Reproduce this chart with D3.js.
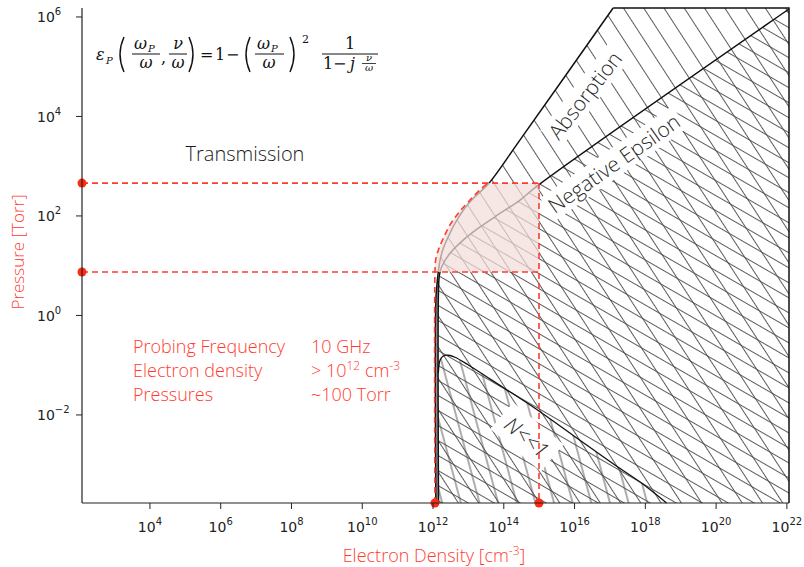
<!DOCTYPE html>
<html>
<head>
<meta charset="utf-8">
<script src="https://cdn.jsdelivr.net/npm/d3@7"></script>
<style>
body { margin: 0; background: #fff; }
svg { display: block; }
</style>
</head>
<body>
<svg id="chart" width="804" height="567"></svg>
<script>
// all values are log10 (electron density in cm^-3, pressure in Torr)
const xDomain = [2.08, 22.06];
const yDomain = [-3.77, 6.18];
const xTicks = [4, 6, 8, 10, 12, 14, 16, 18, 20, 22];
const yTicks = [-2, 0, 2, 4, 6];

// edge of the absorption zone (upper left line)
const absorptionEdge = [[12.08, -3.77], [12.08, 0.31], [12.11, 0.61], [12.15, 0.88], [12.20, 1.115],
    [12.29, 1.35], [12.43, 1.58], [12.62, 1.85], [12.86, 2.12], [13.14, 2.355], [13.56, 2.64],
    [14.46, 3.53], [17.09, 6.18]];
// edge of the negative epsilon zone
const negEpsilonEdge = [[12.155, -3.77], [12.155, 0.51], [12.18, 0.81], [12.245, 0.98], [12.48, 1.25],
    [12.86, 1.52], [13.33, 1.78], [13.89, 2.05], [14.46, 2.32], [14.975, 2.62], [22.06, 6.16]];
// N<<1 zone
const weakEdge = [[12.15, -3.77], [12.15, -1.163], [12.20, -0.895], [12.29, -0.815], [12.43, -0.80],
    [12.62, -0.84], [13.0, -0.996], [13.66, -1.30], [14.88, -1.866], [16.01, -2.437], [17.14, -3.006],
    [17.90, -3.374], [18.60, -3.77]];
// operating window
const pinkEdge = [[12.055, 0.874], [12.075, 1.115], [12.15, 1.316], [12.29, 1.55], [12.48, 1.82],
    [12.71, 2.05], [13.045, 2.32], [13.375, 2.556], [13.56, 2.66]];
const pressureMarks = [0.874, 2.66];
const densityMarks = [12.055, 14.995];

const zoneLabels = [
    { text: 'Absorption', at: [16.29, 4.43], angle: -52 },
    { text: 'Negative Epsilon', at: [17.11, 3.06], angle: -35 }
];

const infoRows = [
    ['Probing Frequency', '10 GHz'],
    ['Electron density', '> 10', '12', ' cm', '-3'],
    ['Pressures', '~100 Torr']
];

const RED = '#ff3b30';
const svg = d3.select('#chart');
const defs = svg.append('defs');

const x = d3.scaleLog().domain(xDomain.map(v => 10 ** v)).range([82, 789]);
const y = d3.scaleLog().domain(yDomain.map(v => 10 ** v)).range([503, 8]);
const px = d => x(10 ** d[0]);
const py = d => y(10 ** d[1]);

const curve = d3.line().x(px).y(py).curve(d3.curveCatmullRom.alpha(0.5));
const straight = d3.line().x(px).y(py);
const join = (...parts) => parts.map((p, i) => i ? p.replace(/^M/, 'L') : p).join('') + 'Z';

function hatch(id, angle, gap) {
    const p = defs.append('pattern')
        .attr('id', id)
        .attr('patternUnits', 'userSpaceOnUse')
        .attr('width', 10)
        .attr('height', gap)
        .attr('patternTransform', `rotate(${angle})`);
    p.append('line')
        .attr('x1', -1).attr('x2', 11)
        .attr('y1', gap / 2).attr('y2', gap / 2)
        .attr('stroke', '#4a4a4a')
        .attr('stroke-width', 0.9);
}
hatch('hSteep', 57, 17);
hatch('hShallow', 30, 13);
hatch('hVert', 75, 18);

const yTop = yDomain[1], yBottom = yDomain[0], xRight = xDomain[1];

const absorptionArea = join(curve(absorptionEdge), straight([[17.09, yTop], [xRight, yTop]]),
    curve(negEpsilonEdge.slice().reverse()));
const negEpsArea = join(curve(negEpsilonEdge), straight([[xRight, 6.16], [xRight, yBottom]]));
const weakArea = join(curve(weakEdge));

const g = svg.append('g');
g.append('path').attr('d', absorptionArea).attr('fill', 'url(#hSteep)');
g.append('path').attr('d', negEpsArea).attr('fill', 'url(#hSteep)');
g.append('path').attr('d', negEpsArea).attr('fill', 'url(#hShallow)');
g.append('path').attr('d', weakArea).attr('fill', 'url(#hVert)');

// sliver between the two vertical edges
g.append('path')
    .attr('d', straight([[12.115, yBottom], [12.115, 0.6]]))
    .attr('stroke', '#9a9a9a').attr('stroke-width', 2);

const sansFont = '"Open Sans", Lato, sans-serif';

// zone labels with white boxes
function boxedLabel(text, cx, cy, angle, size, padX, padY, style) {
    const lg = g.append('g').attr('transform', `translate(${cx},${cy}) rotate(${angle})`);
    const rect = lg.append('rect').attr('fill', '#fff');
    const t = lg.append('text')
        .attr('text-anchor', 'middle')
        .attr('dominant-baseline', 'central')
        .style('font-family', sansFont)
        .style('font-weight', 300)
        .style('font-size', size + 'px')
        .style('fill', '#2a2a2a')
        .style('font-style', style || 'normal')
        .text(text);
    const w = t.node().getComputedTextLength();
    rect.attr('x', -w / 2 - padX).attr('y', -size * 0.6 - padY)
        .attr('width', w + 2 * padX).attr('height', size * 1.2 + 2 * padY);
    return lg;
}
zoneLabels.forEach(l => boxedLabel(l.text, px(l.at), py(l.at), l.angle, 21, 3, 1));
boxedLabel('N<<1', px([14.655, -2.44]), py([14.655, -2.44]), 40, 21, 8, 5, 'italic');

// boundary lines
const edgeStyle = sel => sel.attr('fill', 'none').attr('stroke', '#111').attr('stroke-width', 1.5);
g.append('path').attr('d', curve(absorptionEdge)).call(edgeStyle);
g.append('path').attr('d', curve(negEpsilonEdge)).call(edgeStyle);
g.append('path').attr('d', straight([[17.09, yTop], [xRight, yTop], [xRight, yBottom]])).call(edgeStyle);
g.append('path').attr('d', curve(weakEdge.slice(1))).call(edgeStyle).attr('stroke-width', 1.3);

// operating window
const pinkArea = join(curve(pinkEdge), straight([[densityMarks[1], pressureMarks[1]], [densityMarks[1], pressureMarks[0]]]));
g.append('path').attr('d', pinkArea).attr('fill', '#f3dcd9').attr('opacity', 0.72);

const dashed = sel => sel.attr('fill', 'none').attr('stroke', RED).attr('stroke-width', 1.6).attr('stroke-dasharray', '6,4');
pressureMarks.forEach(p => {
    g.append('path').attr('d', straight([[xDomain[0], p], [densityMarks[1], p]])).call(dashed);
});
g.append('path').attr('d', straight([[densityMarks[1], pressureMarks[1]], [densityMarks[1], yBottom]])).call(dashed);
g.append('path').attr('d', curve([[densityMarks[0], yBottom]].concat(pinkEdge))).call(dashed);

const dots = pressureMarks.map(p => [xDomain[0], p]).concat(densityMarks.map(n => [n, yBottom]));
g.selectAll('circle.mark').data(dots).enter().append('circle')
    .attr('class', 'mark')
    .attr('cx', px).attr('cy', py).attr('r', 4.5)
    .attr('fill', '#ff2a10');

// axes
const axisColor = '#222';
svg.append('line').attr('x1', 82).attr('x2', 82).attr('y1', 8).attr('y2', 503)
    .attr('stroke', axisColor).attr('stroke-width', 1.2);
svg.append('line').attr('x1', 82).attr('x2', 789).attr('y1', 503).attr('y2', 503)
    .attr('stroke', axisColor).attr('stroke-width', 1.2);

const tickFont = '"DejaVu Sans", sans-serif';
xTicks.forEach(t => {
    const xx = x(10 ** t);
    svg.append('line').attr('x1', xx).attr('x2', xx).attr('y1', 503).attr('y2', 509)
        .attr('stroke', axisColor);
    const tx = svg.append('text').attr('x', xx).attr('y', 531.5)
        .attr('text-anchor', 'middle')
        .style('font-family', tickFont).style('fill', '#222');
    tx.append('tspan').style('font-size', '14px').text('10');
    tx.append('tspan').attr('dy', -7).style('font-size', '10px').text(String(t));
});
yTicks.forEach(t => {
    const yy = y(10 ** t);
    svg.append('line').attr('x1', 76).attr('x2', 82).attr('y1', yy).attr('y2', yy)
        .attr('stroke', axisColor);
    const ty = svg.append('text').attr('x', 37).attr('y', yy + 5.5)
        .style('font-family', tickFont).style('fill', '#222');
    ty.append('tspan').style('font-size', '14px').text('10');
    ty.append('tspan').attr('dy', -7).style('font-size', '10px').text(String(t).replace('-', '\u2212'));
});

svg.append('text')
    .attr('transform', 'translate(24,252) rotate(-90)')
    .attr('text-anchor', 'middle')
    .style('font-family', sansFont).style('font-weight', 300)
    .style('font-size', '17px').style('fill', RED)
    .text('Pressure [Torr]');

const xl = svg.append('text').attr('x', 434).attr('y', 562)
    .attr('text-anchor', 'middle')
    .style('font-family', sansFont).style('font-weight', 300)
    .style('font-size', '18px').style('fill', RED);
xl.append('tspan').text('Electron Density [cm');
xl.append('tspan').attr('dy', -7).style('font-size', '12px').text('-3');
xl.append('tspan').attr('dy', 7).text(']');

svg.append('text').attr('x', 245).attr('y', 153)
    .attr('text-anchor', 'middle').attr('dominant-baseline', 'central')
    .style('font-family', sansFont).style('font-weight', 300)
    .style('font-size', '20px').style('fill', '#1a1a1a')
    .text('Transmission');

// info block
infoRows.forEach((row, i) => {
    const yy = 353 + i * 24;
    const base = sel => sel.style('font-family', sansFont).style('font-weight', 300)
        .style('font-size', '18px').style('fill', RED);
    svg.append('text').attr('x', 133).attr('y', yy).call(base).text(row[0]);
    const v = svg.append('text').attr('x', 311).attr('y', yy).call(base);
    if (row.length === 2) {
        v.text(row[1]);
    } else {
        v.append('tspan').text(row[1]);
        v.append('tspan').attr('dy', -7).style('font-size', '12px').text(row[2]);
        v.append('tspan').attr('dy', 7).text(row[3]);
        v.append('tspan').attr('dy', -7).style('font-size', '12px').text(row[4]);
    }
});

// formula
const fg = svg.append('g').style('font-family', '"DejaVu Serif", "Liberation Serif", serif').style('fill', '#111');
function ft(s, xx, yy, size, italic, anchor) {
    fg.append('text').attr('x', xx).attr('y', yy)
        .attr('text-anchor', anchor || 'start')
        .style('font-size', size + 'px')
        .style('font-style', italic ? 'italic' : 'normal')
        .text(s);
}
function bar(x1, x2, yy, w) {
    fg.append('line').attr('x1', x1).attr('x2', x2).attr('y1', yy).attr('y2', yy)
        .attr('stroke', '#111').attr('stroke-width', w || 1);
}
function paren(x0, open) {
    const a = open ? x0 + 7 : x0, b = open ? x0 - 1 : x0 + 8;
    fg.append('path').attr('d', `M${a},37 Q${b},54.5 ${a},72`)
        .attr('fill', 'none').attr('stroke', '#111').attr('stroke-width', 1.4);
}
function omegaP(x0) {
    ft('\u03c9', x0, 49, 16, true);
    ft('P', x0 + 14, 52, 10, true);
}
ft('\u03b5', 96, 60, 16, true);
ft('P', 106, 64, 10, true);
paren(117, true);
omegaP(134); bar(132, 160, 54); ft('\u03c9', 146, 68, 16, true, 'middle');
ft(',', 161, 63, 16, false);
ft('\u03bd', 178, 49, 16, true, 'middle'); bar(169, 187, 54); ft('\u03c9', 178, 68, 16, true, 'middle');
paren(189, false);
ft('=', 200, 60, 16, false);
ft('1', 215, 60, 16, false);
ft('\u2212', 226, 60, 16, false);
paren(243, true);
omegaP(257); bar(255, 284, 54); ft('\u03c9', 269, 68, 16, true, 'middle');
paren(290, false);
ft('2', 302, 43, 11, false);
ft('1', 350, 49, 16, false, 'middle'); bar(322, 378, 54);
ft('1', 323, 69, 16, false);
ft('\u2212', 333, 69, 16, false);
ft('j', 350, 69, 16, true);
ft('\u03bd', 369, 61, 10, true, 'middle'); bar(362, 376, 63.5, 0.8); ft('\u03c9', 369, 71, 10, true, 'middle');
</script>
</body>
</html>
